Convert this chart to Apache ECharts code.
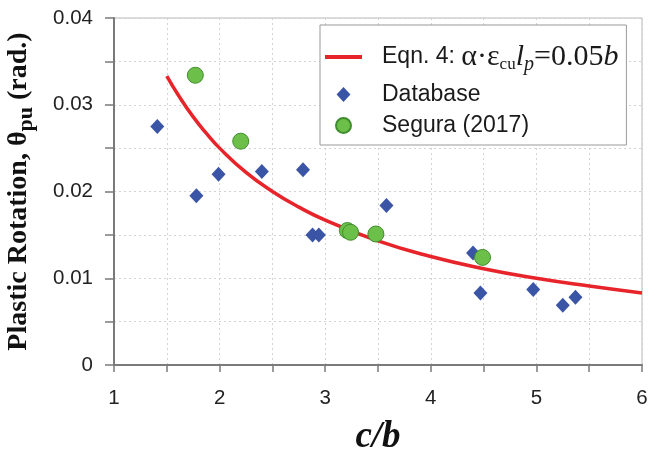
<!DOCTYPE html>
<html>
<head>
<meta charset="utf-8">
<script src="https://cdn.jsdelivr.net/npm/echarts@6/dist/echarts.min.js"></script>
<style>
    html, body { margin: 0; padding: 0; background: #fff; }
    #chart { width: 650px; height: 451px; }
</style>
</head>
<body>
<div id="chart"></div>
<script>
// curve points (Eqn. 4)
var curveX = [1.5, 1.625, 1.75, 1.875, 2, 2.25, 2.5, 2.75, 3, 3.5, 4, 4.5, 5, 5.5, 6];
var curveY = [0.0333, 0.0308, 0.0286, 0.0267, 0.025, 0.0222, 0.02, 0.0182, 0.0167, 0.0143, 0.0125, 0.0111, 0.01, 0.0091, 0.0083];

// Database (diamonds)
var dbX = [1.41, 1.78, 1.99, 2.40, 2.79, 2.88, 2.94, 3.58, 4.40, 4.47, 4.97, 5.25, 5.37];
var dbY = [0.0275, 0.0195, 0.0220, 0.0223, 0.0225, 0.0150, 0.0150, 0.0184, 0.0129, 0.0083, 0.0087, 0.0069, 0.0078];

// Segura (2017) (circles)
var sgX = [1.77, 2.20, 3.21, 3.24, 3.48, 4.49];
var sgY = [0.0334, 0.0258, 0.0155, 0.0153, 0.0151, 0.0124];

var chart = echarts.init(document.getElementById('chart'));

function pairs(xs, ys) {
    var out = [];
    for (let i = 0; i < xs.length; i++) {
        out.push([xs[i], ys[i]]);
    }
    return out;
}

var sans = 'Liberation Sans';
var serif = 'Liberation Serif';
var gridLine = { show: true, lineStyle: { color: '#d2d2d2', type: [2, 3], width: 1 } };

var option = {
    animation: false,
    grid: {
        left: 114, right: 8, top: 18, bottom: 86,
        outerBoundsMode: 'none',
        containLabel: false,
        show: true, borderColor: '#b8b8b8', borderWidth: 1
    },
    legend: {
        orient: 'vertical',
        left: 320, top: 25,
        padding: [17, 8, 8, 5],
        itemGap: 8,
        itemWidth: 37,
        itemHeight: 15,
        symbolKeepAspect: true,
        backgroundColor: '#fff',
        borderColor: '#999',
        borderWidth: 1,
        textStyle: {
            fontFamily: sans, fontSize: 23, color: '#1a1a1a', padding: [0, 0, 0, 15],
            rich: {
                s: { fontFamily: sans, fontSize: 23, color: '#1a1a1a' },
                t: { fontFamily: serif, fontSize: 30, color: '#1a1a1a' },
                sub: { fontFamily: serif, fontSize: 17, color: '#1a1a1a', padding: [16, 0, 0, 0] },
                i: { fontFamily: serif, fontSize: 30, fontStyle: 'italic', color: '#1a1a1a' },
                isub: { fontFamily: serif, fontSize: 20, fontStyle: 'italic', color: '#1a1a1a', padding: [16, 0, 0, 0] }
            }
        },
        formatter: function (name) {
            if (name === 'Eqn') {
                return '{s|Eqn. 4: }{t|α·ε}{sub|cu}{i|l}{isub|p}{t|=0.05}{i|b}';
            }
            return name;
        },
        data: [
            { name: 'Eqn', icon: 'path://M0,0 H37 V4 H0 Z' },
            { name: 'Database', icon: 'path://M6,0 L12,6.5 L6,13 L0,6.5 Z' },
            { name: 'Segura (2017)', icon: 'circle' }
        ]
    },
    xAxis: {
        type: 'value',
        min: 1, max: 6, interval: 0.5,
        name: 'c/b',
        nameLocation: 'middle',
        nameGap: 54,
        nameTextStyle: { fontFamily: serif, fontSize: 37, fontWeight: 'bold', fontStyle: 'italic', color: '#111' },
        axisLine: { lineStyle: { color: '#7a7a7a', width: 2 } },
        axisTick: { inside: false, length: 7, lineStyle: { color: '#7a7a7a', width: 1.5 } },
        axisLabel: {
            margin: 23, fontFamily: sans, fontSize: 20.5, color: '#222',
            formatter: function (v) {
                return Math.abs(v - Math.round(v)) < 1e-6 ? String(Math.round(v)) : '';
            }
        },
        splitLine: gridLine
    },
    yAxis: {
        type: 'value',
        min: 0, max: 0.04, interval: 0.005,
        name: '{a|Plastic Rotation, θ}{s|pu}{a| (rad.)}',
        nameLocation: 'middle',
        nameRotate: 90,
        nameGap: 77,
        nameTextStyle: {
            rich: {
                a: { fontFamily: serif, fontSize: 28, fontWeight: 'bold', color: '#111' },
                s: { fontFamily: serif, fontSize: 22, fontWeight: 'bold', color: '#111', padding: [15, 0, 0, 0] }
            }
        },
        axisLine: { lineStyle: { color: '#7a7a7a', width: 2 } },
        axisTick: { inside: false, length: 9, lineStyle: { color: '#7a7a7a', width: 1.5 } },
        axisLabel: {
            margin: 21, fontFamily: sans, fontSize: 20.5, color: '#222',
            formatter: function (v) {
                var k = v * 100;
                if (Math.abs(k - Math.round(k)) > 1e-6) return '';
                return Math.round(k) === 0 ? '0' : (Math.round(k) / 100).toFixed(2);
            }
        },
        splitLine: gridLine
    },
    series: [
        {
            name: 'Eqn',
            type: 'line',
            data: pairs(curveX, curveY),
            smooth: true,
            showSymbol: false,
            symbol: 'none',
            lineStyle: { color: '#e8242b', width: 3.5 },
            itemStyle: { color: '#e8242b' },
            z: 2
        },
        {
            name: 'Database',
            type: 'scatter',
            data: pairs(dbX, dbY),
            symbol: 'diamond',
            symbolSize: [14, 15],
            itemStyle: { color: '#3a55a6', opacity: 1 },
            z: 3
        },
        {
            name: 'Segura (2017)',
            type: 'scatter',
            data: pairs(sgX, sgY),
            symbol: 'circle',
            symbolSize: 16,
            itemStyle: { color: '#6cc04a', borderColor: '#3f8d2c', borderWidth: 1, opacity: 1 },
            z: 4
        }
    ]
};

chart.setOption(option);
</script>
</body>
</html>
